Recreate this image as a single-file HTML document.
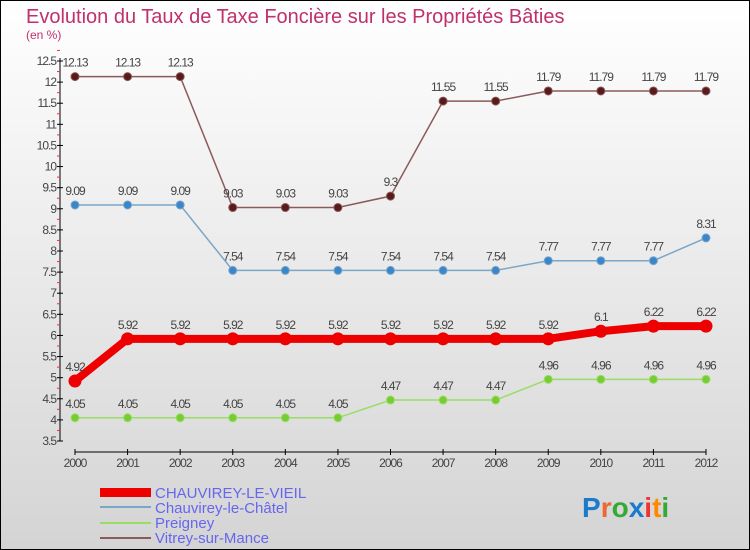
<!DOCTYPE html>
<html><head><meta charset="utf-8">
<style>
body{margin:0;width:750px;height:550px;overflow:hidden;font-family:"Liberation Sans",sans-serif}
svg{display:block}
</style></head><body>
<svg width="750" height="550" id="c">
<defs><linearGradient id="bg" x1="0" y1="0" x2="0" y2="1"><stop offset="0" stop-color="#ffffff"/><stop offset="1" stop-color="#d4d4d4"/></linearGradient></defs>
<rect x="0.5" y="0.5" width="749" height="549" fill="url(#bg)" stroke="#000"/>
<text x="26" y="23" font-size="20" fill="#c0306a">Evolution du Taux de Taxe Foncière sur les Propriétés Bâties</text>
<text x="26" y="39" font-size="12" fill="#c0306a">(en %)</text>
<g id="axes"></g><g id="series"></g>
<g>
<rect x="100" y="488" width="51" height="9" fill="#e00"/>
<text x="155" y="498" font-size="15" fill="#6666ee">CHAUVIREY-LE-VIEIL</text>
<rect x="100" y="506" width="51" height="2" fill="#7aa6c8"/>
<text x="155" y="513" font-size="15" fill="#6666ee">Chauvirey-le-Châtel</text>
<rect x="100" y="522" width="51" height="2" fill="#99dd66"/>
<text x="155" y="528" font-size="15" fill="#6666ee">Preigney</text>
<rect x="100" y="537" width="51" height="2" fill="#8a5a5a"/>
<text x="155" y="543" font-size="15" fill="#6666ee">Vitrey-sur-Mance</text>
</g>
<text x="582" y="517" font-size="28" font-weight="bold"><tspan fill="#1a7acc">P</tspan><tspan fill="#e63">r</tspan><tspan fill="#3a3">o</tspan><tspan fill="#1a7acc">x</tspan><tspan fill="#e33">i</tspan><tspan fill="#f80">t</tspan><tspan fill="#3a3">i</tspan></text>
</svg>
<script>
const years=[2000,2001,2002,2003,2004,2005,2006,2007,2008,2009,2010,2011,2012];
const yTicks=[3.5,4,4.5,5,5.5,6,6.5,7,7.5,8,8.5,9,9.5,10,10.5,11,11.5,12,12.5];
const vieil=[4.92,5.92,5.92,5.92,5.92,5.92,5.92,5.92,5.92,5.92,6.1,6.22,6.22];
const chatel=[9.09,9.09,9.09,7.54,7.54,7.54,7.54,7.54,7.54,7.77,7.77,7.77,8.31];
const preigney=[4.05,4.05,4.05,4.05,4.05,4.05,4.47,4.47,4.47,4.96,4.96,4.96,4.96];
const vitrey=[12.13,12.13,12.13,9.03,9.03,9.03,9.3,11.55,11.55,11.79,11.79,11.79,11.79];
const NS="http://www.w3.org/2000/svg";
const X=i=>75+i*(706-75)/(years.length-1);
const Y=v=>441-(v-3.5)*(441-61)/9;
function el(t,a,p){const e=document.createElementNS(NS,t);for(const k in a)e.setAttribute(k,a[k]);p.appendChild(e);return e;}
const ax=document.getElementById('axes');
let yl=el('line',{x1:60,y1:58,x2:60,y2:441,stroke:'#000'},ax);


yTicks.forEach(v=>{el('line',{x1:57,x2:63,y1:Y(v),y2:Y(v),stroke:'#000'},ax);
el('line',{x1:57,x2:60,y1:Y(v+0.25),y2:Y(v+0.25),stroke:'#e33'},ax);
const t=el('text',{x:56,y:Y(v)+4,'font-size':12,fill:'#444','text-anchor':'end','letter-spacing':'-1'},ax);t.textContent=v;

});
let xl=el('line',{x1:75,y1:452,x2:706,y2:452,stroke:'#000'},ax);


years.forEach((y,i)=>{el('line',{x1:X(i),x2:X(i),y1:449,y2:455,stroke:'#000'},ax);
const t=el('text',{x:X(i),y:467,'font-size':12,fill:'#444','text-anchor':'middle','letter-spacing':'-1'},ax);t.textContent=y;

});
const sg=document.getElementById('series');
function draw(vals,name,col,w,r,dot){
const g=el('g',{},sg);


el('polyline',{points:vals.map((v,i)=>X(i)+','+Y(v)).join(' '),fill:'none',stroke:col,'stroke-width':w},g);
vals.forEach((v,i)=>{const c=el('circle',{cx:X(i),cy:Y(v),r:r,fill:dot,stroke:col,'stroke-width':1},g);


const t=el('text',{x:X(i),y:Y(v)-10,'font-size':12,fill:'#444','text-anchor':'middle','letter-spacing':'-1'},g);t.textContent=v;

});}
draw(vitrey,'vitrey-sur-mance','#8a5a5a',1.5,4,'#5a1a1a');
draw(chatel,'chauvirey-le-chatel','#7aa6c8',1.5,4,'#3a86c8');
draw(preigney,'preigney','#99dd66',1.5,4,'#77cc33');
draw(vieil,'chauvirey-le-vieil','#e00',8,6,'#e00');
</script>
</body></html>
